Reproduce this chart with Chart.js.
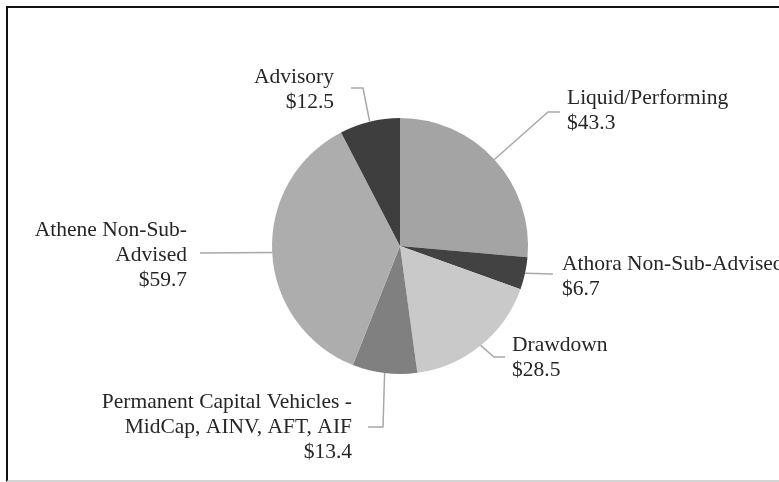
<!DOCTYPE html>
<html>
<head>
<meta charset="utf-8">
<script src="https://cdn.jsdelivr.net/npm/chart.js@4"></script>
<style>
  body { margin: 0; background: #fff; }
  #frame {
    position: absolute; left: 6px; top: 6px; width: 800px; height: 472px;
    border-top: 2px solid #111; border-left: 2px solid #111; border-bottom: 2px solid #d4d4d4;
  }
  #pie { position: absolute; left: 0; top: 0; }
</style>
</head>
<body>
<div id="frame"></div>
<canvas id="pie" width="779" height="482"></canvas>
<script>
// slices, clockwise from 12 o'clock
const categories = [
  ["Liquid/Performing"],
  ["Athora Non-Sub-Advised"],
  ["Drawdown"],
  ["Permanent Capital Vehicles -", "MidCap, AINV, AFT, AIF"],
  ["Athene Non-Sub-", "Advised"],
  ["Advisory"],
];
const values = [43.3, 6.7, 28.5, 13.4, 59.7, 12.5];
const sliceColors = ["#a4a4a4", "#424242", "#c9c9c9", "#808080", "#adadad", "#3e3e3e"];

// leader line points and label placement, relative to the pie centre
const labelLayout = [
  { path: [[148, -134], [160, -134]], x: 167, y: -148, align: "left" },
  { path: [[153, 28]], x: 162, y: 18, align: "left" },
  { path: [[94, 111], [105, 111]], x: 112, y: 99, align: "left" },
  { path: [[-17, 181], [-32, 181]], x: -48, y: 156, align: "right" },
  { path: [[-200, 7]], x: -213, y: -16, align: "right" },
  { path: [[-37, -158], [-49, -158]], x: -66, y: -169, align: "right" },
];

const lineGap = 25;

const leaderLabels = {
  id: "leaderLabels",
  afterDatasetsDraw(chart) {
    const ctx = chart.ctx;
    const arcs = chart.getDatasetMeta(0).data;
    ctx.save();
    arcs.forEach((arc, i) => {
      const { x, y, outerRadius, startAngle, endAngle } = arc.getProps(
        ["x", "y", "outerRadius", "startAngle", "endAngle"], true);
      const mid = (startAngle + endAngle) / 2;
      const lay = labelLayout[i];
      ctx.strokeStyle = "#a8a8a8";
      ctx.lineWidth = 1.5;
      ctx.beginPath();
      ctx.moveTo(x + Math.cos(mid) * outerRadius, y + Math.sin(mid) * outerRadius);
      lay.path.forEach(p => ctx.lineTo(x + p[0], y + p[1]));
      ctx.stroke();

      const lines = categories[i].concat(["$" + values[i].toFixed(1)]);
      ctx.fillStyle = "#262626";
      ctx.font = "21.5px 'Liberation Serif', 'Times New Roman', serif";
      ctx.textAlign = lay.align;
      ctx.textBaseline = "middle";
      lines.forEach((t, k) => ctx.fillText(t, x + lay.x, y + lay.y + k * lineGap));
    });
    ctx.restore();
  }
};

new Chart(document.getElementById("pie"), {
  type: "pie",
  plugins: [leaderLabels],
  data: {
    labels: categories.map(c => c.join(" ")),
    datasets: [{
      data: values,
      backgroundColor: sliceColors,
      borderWidth: 0,
    }],
  },
  options: {
    responsive: false,
    animation: false,
    layout: { padding: { top: 118, bottom: 108, left: 272, right: 251 } },
    plugins: {
      legend: { display: false },
      tooltip: { enabled: false },
    },
  },
});
</script>
</body>
</html>
